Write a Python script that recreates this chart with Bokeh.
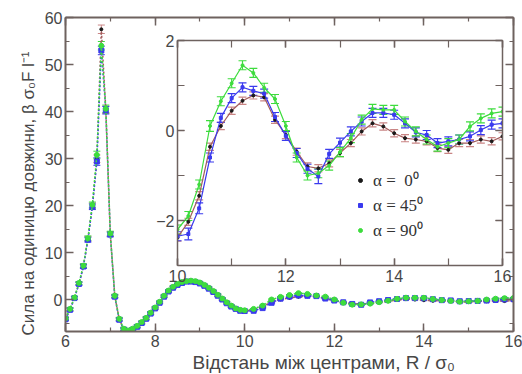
from bokeh.plotting import figure
from bokeh.models import (ColumnDataSource, Whisker, TeeHead, LinearAxis, Title,
                          SingleIntervalTicker, Range1d, Legend, LegendItem)
from bokeh.layouts import column
from bokeh.embed import file_html
from bokeh.resources import INLINE

# ---------------- data ----------------
x_near = [6.0, 6.1, 6.2, 6.3, 6.4, 6.5, 6.6, 6.7, 6.8, 6.9,
          7.0, 7.1, 7.2, 7.3, 7.4, 7.5, 7.6, 7.7, 7.8, 7.9,
          8.0, 8.1, 8.2, 8.3, 8.4, 8.5, 8.6, 8.7, 8.8, 8.9,
          9.0, 9.1, 9.2, 9.3, 9.4, 9.5, 9.6, 9.7, 9.8, 9.9]
x_far = [10.0, 10.2, 10.4, 10.6, 10.8, 11.0, 11.2, 11.4, 11.6, 11.8,
         12.0, 12.2, 12.4, 12.6, 12.8, 13.0, 13.2, 13.4, 13.6, 13.8,
         14.0, 14.2, 14.4, 14.6, 14.8, 15.0, 15.2, 15.4, 15.6, 15.8, 16.0]

# alpha = 0 deg
f0_near = [-4.0, -2.0, 0.4, 3.5, 7.2, 13.0, 20.0, 30.0, 57.5, 40.4,
           14.0, 0.8, -4.1, -6.2, -6.6, -6.2, -5.6, -4.8, -3.9, -2.8,
           -1.7, -0.5, 0.8, 1.9, 2.7, 3.3, 3.7, 3.9, 4.0, 3.9,
           3.6, 3.1, 2.5, 1.8, 1.0, 0.2, -0.6, -1.3, -1.85, -2.2]
f0_far = [-2.38, -2.03, -1.45, -0.36, 0.10, 0.44, 0.66, 0.78, 0.74, 0.24,
          -0.10, -0.47, -0.80, -0.84, -0.73, -0.50, -0.28, -0.02, 0.16, 0.09,
          -0.06, -0.17, -0.20, -0.24, -0.39, -0.43, -0.28, -0.28, -0.20, -0.24, -0.13]
# alpha = 45 deg
f45_near = [-4.1, -2.1, 0.4, 3.4, 7.1, 12.8, 19.8, 29.4, 53.0, 40.3,
            13.9, 0.7, -4.2, -6.3, -6.7, -6.3, -5.7, -4.9, -4.0, -2.9,
            -1.8, -0.6, 0.7, 1.8, 2.6, 3.2, 3.6, 3.9, 3.9, 3.8,
            3.5, 3.0, 2.4, 1.7, 0.9, 0.1, -0.7, -1.4, -1.9, -2.3]
f45_far = [-2.35, -2.30, -1.73, -0.60, 0.28, 0.72, 0.96, 0.88, 0.82, 0.30,
           -0.12, -0.50, -0.85, -1.02, -0.52, -0.27, -0.02, 0.20, 0.39, 0.39,
           0.35, 0.16, -0.04, -0.10, -0.28, -0.24, -0.20, -0.13, 0.01, 0.13, 0.16]
# alpha = 90 deg
f90_near = [-3.9, -1.9, 0.5, 3.6, 7.3, 13.1, 20.2, 30.8, 54.0, 40.6,
            14.1, 0.9, -4.0, -6.1, -6.5, -6.1, -5.5, -4.7, -3.8, -2.7,
            -1.6, -0.4, 0.9, 2.0, 2.8, 3.4, 3.8, 4.0, 4.1, 4.0,
            3.7, 3.2, 2.6, 1.9, 1.1, 0.3, -0.5, -1.2, -1.8, -2.1]
f90_far = [-2.20, -1.90, -1.20, 0.10, 0.65, 1.05, 1.45, 1.28, 0.95, 0.70,
           0.10, -0.60, -1.00, -0.95, -0.78, -0.48, -0.17, 0.24, 0.48, 0.46,
           0.46, 0.20, -0.02, -0.20, -0.36, -0.28, -0.20, 0.09, 0.27, 0.38, 0.42]

err_near = [0.3, 0.3, 0.3, 0.3, 0.4, 0.5, 0.6, 0.8, 0.9, 0.8,
            0.5, 0.3, 0.3, 0.3, 0.3, 0.25, 0.25, 0.25, 0.25, 0.25,
            0.2, 0.2, 0.2, 0.2, 0.2, 0.2, 0.2, 0.2, 0.2, 0.2,
            0.2, 0.2, 0.2, 0.2, 0.2, 0.2, 0.2, 0.2, 0.2, 0.2]
err0_far = [0.08, 0.08, 0.09, 0.08, 0.08, 0.08, 0.08, 0.08, 0.08, 0.08,
            0.08, 0.08, 0.08, 0.08, 0.08, 0.08, 0.08, 0.08, 0.08, 0.08,
            0.08, 0.08, 0.08, 0.08, 0.08, 0.08, 0.08, 0.08, 0.08, 0.08, 0.08]
err45_far = [0.10, 0.13, 0.12, 0.10, 0.10, 0.10, 0.10, 0.10, 0.10, 0.10,
             0.10, 0.10, 0.10, 0.16, 0.10, 0.10, 0.10, 0.10, 0.10, 0.10,
             0.10, 0.10, 0.10, 0.10, 0.10, 0.10, 0.10, 0.10, 0.10, 0.10, 0.10]
err90_far = [0.10, 0.10, 0.10, 0.12, 0.10, 0.10, 0.10, 0.10, 0.10, 0.10,
             0.10, 0.10, 0.10, 0.10, 0.10, 0.10, 0.10, 0.10, 0.10, 0.10,
             0.10, 0.10, 0.10, 0.10, 0.10, 0.10, 0.10, 0.10, 0.10, 0.10, 0.10]

legend_labels = ["\u03b1 =  0\u2070", "\u03b1 = 45\u2070", "\u03b1 = 90\u2070"]
x_title = "Відстань між центрами, R / σ\u2080"
y_title = "Сила на одиницю довжини, β σ\u2080F  l\u207b\u00b9"

# ---------------- styling ----------------
FONT = "Liberation Sans"
AX = "#6e625f"
TXT = "#474747"
C0_LINE, C0_ERR, C0_MK = "#a35d5d", "#c98585", "#1a1a1a"
C45 = "#3a3aee"
C90 = "#3ddc3d"


def style_axis(ax, labels=True, size="16px", width=2.0, tin=8, tmin=4, standoff=3):
    ax.axis_line_color = AX
    ax.axis_line_width = width
    ax.major_tick_line_color = AX
    ax.major_tick_line_width = 1.5
    ax.minor_tick_line_color = AX
    ax.minor_tick_line_width = 1.2
    ax.major_tick_in = tin
    ax.major_tick_out = 0
    ax.minor_tick_in = tmin
    ax.minor_tick_out = 0
    ax.major_label_text_font = FONT
    if labels:
        ax.major_label_text_font_size = size
        ax.major_label_text_color = TXT
        ax.major_label_standoff = standoff
    else:
        ax.major_label_text_font_size = "1px"
        ax.major_label_text_color = None
        ax.major_label_standoff = 0


def make_src(xs, ys, es):
    return ColumnDataSource(dict(x=xs, y=ys,
                                 lo=[a - b for a, b in zip(ys, es)],
                                 hi=[a + b for a, b in zip(ys, es)]))


# ---------------- main figure ----------------
p = figure(frame_width=448, frame_height=314, x_range=Range1d(6, 16), y_range=Range1d(-6.7, 60),
           output_backend="svg", toolbar_location=None,
           min_border_left=65, min_border_right=9, min_border_top=17, min_border_bottom=43)
p.outline_line_color = None
p.xgrid.grid_line_color = None
p.ygrid.grid_line_color = None
p.background_fill_color = "white"
p.border_fill_color = "white"

bottom = p.xaxis[0]
left = p.yaxis[0]
bottom.ticker = SingleIntervalTicker(interval=2, num_minor_ticks=2)
left.ticker = SingleIntervalTicker(interval=10, num_minor_ticks=2)
style_axis(bottom)
style_axis(left)
top = LinearAxis(ticker=SingleIntervalTicker(interval=2, num_minor_ticks=2))
right = LinearAxis(ticker=SingleIntervalTicker(interval=10, num_minor_ticks=2))
style_axis(top, labels=False)
style_axis(right, labels=False)
p.add_layout(top, "above")
p.add_layout(right, "right")

# axis titles (placed as titles to reproduce their off-centre position)
p.add_layout(Title(text=x_title, align="left", offset=127, standoff=0,
                   text_font=FONT, text_font_size="19px", text_font_style="normal",
                   text_color=TXT), "below")
p.add_layout(Title(text=y_title, align="left", offset=-4, standoff=7,
                   text_font=FONT, text_font_size="17px", text_font_style="normal",
                   text_color=TXT), "left")

x_all = x_near + x_far
series = [
    (f0_near + f0_far, err_near + err0_far, C0_LINE, C0_ERR, C0_MK, "circle", 3),
    (f45_near + f45_far, err_near + err45_far, C45, C45, C45, "square", 5),
    (f90_near + f90_far, err_near + err90_far, C90, C90, C90, "circle", 5),
]
for ys, es, lc, ec, mc, mk, ms in series:
    src = make_src(x_all, ys, es)
    p.line("x", "y", source=src, line_color=lc, line_width=1.5, line_dash="2 2")
    p.add_layout(Whisker(base="x", upper="hi", lower="lo", source=src, line_color=ec,
                         line_width=1,
                         upper_head=TeeHead(size=7, line_color=ec, line_width=1),
                         lower_head=TeeHead(size=7, line_color=ec, line_width=1)))
    p.scatter("x", "y", source=src, marker=mk, size=ms, fill_color=mc, line_color=mc)

# ---------------- inset figure ----------------
ins = figure(frame_width=325, frame_height=225, x_range=Range1d(10, 16), y_range=Range1d(-3, 2),
             output_backend="svg", toolbar_location=None,
             min_border_left=65, min_border_right=9, min_border_top=10, min_border_bottom=25,
             margin=(-344, 0, 0, 112))
ins.outline_line_color = None
ins.xgrid.grid_line_color = None
ins.ygrid.grid_line_color = None
ins.background_fill_color = "white"
ins.border_fill_alpha = 0
ibottom = ins.xaxis[0]
ileft = ins.yaxis[0]
ibottom.ticker = SingleIntervalTicker(interval=2, num_minor_ticks=2)
ileft.ticker = SingleIntervalTicker(interval=2, num_minor_ticks=2)
style_axis(ibottom, width=1.5, tin=7, tmin=7, standoff=4)
style_axis(ileft, width=1.5, tin=7, tmin=7, standoff=3)
itop = LinearAxis(ticker=SingleIntervalTicker(interval=2, num_minor_ticks=2))
iright = LinearAxis(ticker=SingleIntervalTicker(interval=2, num_minor_ticks=2))
style_axis(itop, labels=False, width=1.5, tin=7, tmin=7)
style_axis(iright, labels=False, width=1.5, tin=7, tmin=7)
ins.add_layout(itop, "above")
ins.add_layout(iright, "right")

inset_series = [
    (f0_far, err0_far, C0_LINE, C0_ERR, C0_MK, "circle", 3),
    (f45_far, err45_far, C45, C45, C45, "square", 3),
    (f90_far, err90_far, C90, C90, C90, "circle", 3),
]
marker_renderers = []
for ys, es, lc, ec, mc, mk, ms in inset_series:
    src = make_src(x_far, ys, es)
    ins.line("x", "y", source=src, line_color=lc, line_width=1.2)
    ins.add_layout(Whisker(base="x", upper="hi", lower="lo", source=src, line_color=ec,
                           line_width=1.2,
                           upper_head=TeeHead(size=8, line_color=ec, line_width=1.2),
                           lower_head=TeeHead(size=8, line_color=ec, line_width=1.2)))
    r = ins.scatter("x", "y", source=src, marker=mk, size=ms, fill_color=mc, line_color=mc)
    marker_renderers.append(r)

leg = Legend(items=[LegendItem(label=lab, renderers=[r])
                    for lab, r in zip(legend_labels, marker_renderers)],
             location=(178, 24), background_fill_alpha=0, border_line_color=None,
             label_text_font="Liberation Serif", label_text_font_size="17px",
             label_text_color="#333333", glyph_width=10, glyph_height=10,
             spacing=2, label_standoff=8, padding=0, margin=0)
ins.add_layout(leg)

layout = column(p, ins)
open("out.html", "w").write(file_html(layout, INLINE))
